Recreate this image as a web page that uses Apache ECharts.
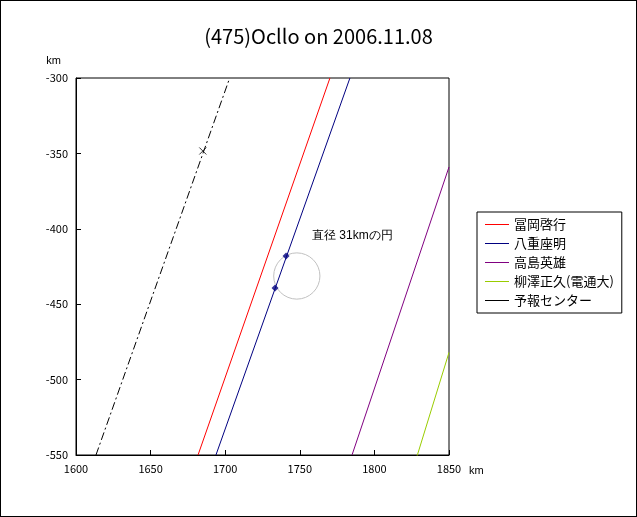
<!DOCTYPE html><html><head><meta charset="utf-8">
<script src="https://cdn.jsdelivr.net/npm/echarts@6/dist/echarts.min.js"></script>
<style>body{margin:0}#c{width:637px;height:517px;box-sizing:border-box;border:1px solid #000}</style></head><body><div id="c"></div>
<script>
const xTicks=[1600,1650,1700,1750,1800,1850];
const yTicks=[-300,-350,-400,-450,-500,-550];
const tomioka=[[1681.8,-550],[1770.2,-300]];
const yae=[[1693.8,-550],[1783.6,-300]];
const yaeObs=[[1733.4,-439.3],[1740.8,-418]];
const takashima=[[1785,-550],[1850,-359]];
const yanagisawa=[[1828.5,-551],[1850,-482]];
const predict=[[1613.4,-550],[1703,-300]];
const predictMark=[[1685,-348.4]];
const circle=[[1748,-431.3,31]];
const names=['冨岡啓行','八重座明','高島英雄','柳澤正久(電通大)','予報センター'];
const ch=echarts.init(document.getElementById('c'));
const font='"Noto Sans CJK JP", sans-serif';
const lineIcon='path://M0,4.5L24,4.5L24,5.5L0,5.5Z';
ch.setOption({animation:false,
title:{text:'(475)Ocllo on 2006.11.08',left:'center',top:20,textStyle:{fontSize:20,fontWeight:'normal',color:'#000',fontFamily:font}},
grid:{left:75,top:77,width:373,height:377,show:true,borderColor:'#000',borderWidth:1},
xAxis:{type:'value',min:1600,max:1850,interval:50,splitLine:{show:false},axisLine:{lineStyle:{color:'#000'}},axisTick:{inside:true,lineStyle:{color:'#000'}},axisLabel:{color:'#000',fontSize:11,fontFamily:font,formatter:v=>String(v)},name:'km',nameGap:10,nameTextStyle:{color:'#000',fontSize:11,verticalAlign:'top',padding:[10,0,0,10]}},
yAxis:{type:'value',min:-550,max:-300,interval:50,splitLine:{show:false},axisLine:{lineStyle:{color:'#000'}},axisTick:{inside:true,lineStyle:{color:'#000'}},axisLabel:{color:'#000',fontSize:11,fontFamily:font,formatter:v=>String(v)},name:'km',nameGap:12,nameTextStyle:{color:'#000',fontSize:11,align:'right',padding:[0,15,0,0]}},
legend:{orient:'vertical',left:476,top:211,itemWidth:24,itemHeight:10,itemGap:6,padding:[6,8],borderColor:'#000',borderWidth:1,textStyle:{color:'#000',fontSize:13,fontFamily:font},data:names.map(n=>({name:n,icon:lineIcon}))},
series:[
{name:names[0],type:'line',data:tomioka,symbol:'none',lineStyle:{color:'#ff0000',width:1},itemStyle:{color:'#ff0000'}},
{name:names[1],type:'line',data:yae,symbol:'none',lineStyle:{color:'#000080',width:1},itemStyle:{color:'#000080'}},
{name:names[1],type:'scatter',data:yaeObs,symbol:'diamond',symbolSize:7,itemStyle:{color:'#000080'}},
{name:names[2],type:'line',data:takashima,symbol:'none',lineStyle:{color:'#800080',width:1},itemStyle:{color:'#800080'}},
{name:names[3],type:'line',data:yanagisawa,symbol:'none',lineStyle:{color:'#99cc00',width:1},itemStyle:{color:'#99cc00'}},
{name:names[4],type:'line',data:predict,symbol:'none',lineStyle:{color:'#000',width:1,type:[8,3,2,3]},itemStyle:{color:'#000'}},
{name:names[4],type:'scatter',data:predictMark,symbol:'path://M0,0L10,10M10,0L0,10',symbolSize:7,itemStyle:{color:'none',borderColor:'#000',borderWidth:1}},
{type:'custom',data:circle,renderItem:(p,api)=>{const c=api.coord([api.value(0),api.value(1)]);const r=api.size([api.value(2)/2,0])[0];return {type:'circle',shape:{cx:c[0],cy:c[1],r:r},style:{fill:'none',stroke:'#c0c0c0',lineWidth:1}};}}
],
graphic:[{type:'text',left:311,top:229,style:{text:'直径 31kmの円',fontSize:12,fill:'#000',font:'12px '+font}}]
});
</script></body></html>
